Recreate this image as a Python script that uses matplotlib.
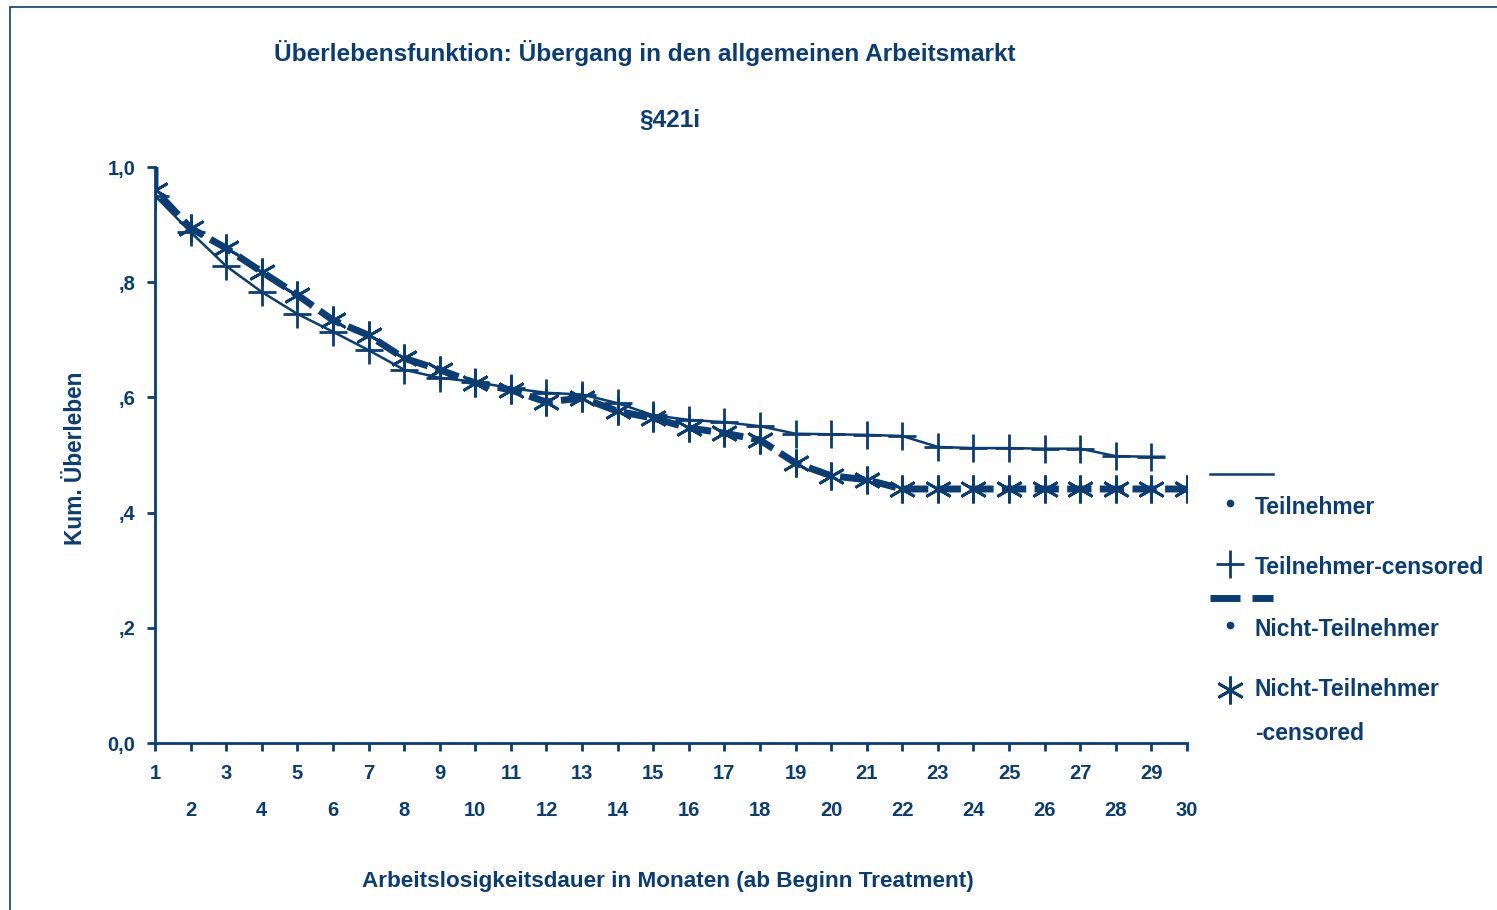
import matplotlib
matplotlib.use("Agg")
import matplotlib.pyplot as plt
from matplotlib.lines import Line2D
from matplotlib.patches import Rectangle

# --- Daten ---
months = list(range(1, 31))

# Teilnehmer: Überlebensfunktion, Monate 1..29
teil_x = [1, 1, 2, 3, 4, 5, 6, 7, 8, 9, 10, 11, 12, 13, 14, 15, 16, 17, 18, 19,
          20, 21, 22, 23, 24, 25, 26, 27, 28, 29, 29.35]
teil_y = [1.0, 0.950, 0.887, 0.828, 0.783, 0.745, 0.714, 0.682, 0.648, 0.634, 0.627,
          0.616, 0.608, 0.605, 0.590, 0.569, 0.561, 0.557, 0.550, 0.537,
          0.536, 0.535, 0.533, 0.514, 0.512, 0.512, 0.511, 0.511, 0.498, 0.497, 0.497]
# zensierte Fälle Teilnehmer
teil_cens_x = list(range(1, 30))
teil_cens_y = teil_y[1:30]

# Nicht-Teilnehmer
nicht_x = [1, 1, 2, 3, 4, 5, 6, 7, 8, 9, 10, 11, 12, 13, 14, 15, 16, 17, 18, 19,
           20, 21, 22, 23, 24, 25, 26, 27, 28, 29, 30]
nicht_y = [1.0, 0.960, 0.894, 0.859, 0.818, 0.778, 0.734, 0.708, 0.668, 0.648, 0.625,
           0.613, 0.592, 0.599, 0.576, 0.564, 0.547, 0.538, 0.526, 0.486,
           0.464, 0.457, 0.441, 0.441, 0.441, 0.441, 0.441, 0.441, 0.441, 0.441, 0.441]
nicht_cens_x = list(range(1, 31))
nicht_cens_y = nicht_y[1:]

y_ticks = [0.0, 0.2, 0.4, 0.6, 0.8, 1.0]
y_labels = ["0,0", ",2", ",4", ",6", ",8", "1,0"]

NAVY = "#0b3d75"
W, H = 1497, 910
plt.rcParams["font.family"] = ["Liberation Sans", "DejaVu Sans"]
plt.rcParams["font.weight"] = "bold"

fig = plt.figure(figsize=(W / 100, H / 100), dpi=100)
ax = fig.add_axes([155 / W, 1 - 743 / H, (1187 - 155) / W, (743 - 167) / H])

# Linien
ax.plot(teil_x, teil_y, color=NAVY, lw=1.8, zorder=3)
ax.plot(nicht_x, nicht_y, color=NAVY, lw=5, dashes=(3.5, 1.2), zorder=3)
# zensierte Marker
ax.plot(teil_cens_x, teil_cens_y, ls="none", marker="+", ms=20, mew=2,
        color=NAVY, zorder=4)
ax.plot(nicht_cens_x, nicht_cens_y, ls="none", marker=(6, 2, 0), ms=20, mew=2,
        color=NAVY, zorder=4)

ax.set_xlim(1, 30)
ax.set_ylim(0, 1.0)
for s in ["top", "right"]:
    ax.spines[s].set_visible(False)
for s in ["left", "bottom"]:
    ax.spines[s].set_color(NAVY)
    ax.spines[s].set_linewidth(2)

ax.set_yticks(y_ticks)
ax.set_yticklabels(y_labels)
ax.set_xticks([m for m in months if m % 2 == 1])
ax.set_xticklabels([str(m) for m in months if m % 2 == 1])
ax.set_xticks([m for m in months if m % 2 == 0], minor=True)
ax.set_xticklabels([str(m) for m in months if m % 2 == 0], minor=True)
ax.tick_params(axis="both", which="both", colors=NAVY, labelcolor=NAVY,
               length=6, width=2, labelsize=14.5)
ax.tick_params(axis="x", which="major", pad=9)
ax.tick_params(axis="x", which="minor", pad=35.5)
ax.tick_params(axis="y", pad=8)

fig.text(75 / W, 1 - 458 / H, "Kum. Überleben", rotation=90, ha="center",
         va="center", color=NAVY, fontsize=16.3)
fig.text(668 / W, 1 - 882 / H,
         "Arbeitslosigkeitsdauer in Monaten (ab Beginn Treatment)",
         ha="center", va="center", color=NAVY, fontsize=16.2)

fig.text(645 / W, 1 - 53 / H,
         "Überlebensfunktion: Übergang in den allgemeinen Arbeitsmarkt",
         ha="center", va="center", color=NAVY, fontsize=17.6)
fig.text(670 / W, 1 - 121 / H, "§421i", ha="center", va="center",
         color=NAVY, fontsize=17.6)

# Legende (SPSS-Stil)
def fx(px):
    return px / W


def fy(py):
    return 1 - py / H


LEG_FS = 16.5
fig.add_artist(Line2D([fx(1210), fx(1273)], [fy(474), fy(474)], color=NAVY, lw=1.8))
fig.add_artist(Line2D([fx(1230)], [fy(503)], marker="o", ms=4.5, color=NAVY, ls="none"))
fig.text(fx(1255), fy(507), "Teilnehmer", va="center", color=NAVY, fontsize=LEG_FS)
fig.add_artist(Line2D([fx(1230)], [fy(564)], marker="+", ms=20, mew=2, color=NAVY, ls="none"))
fig.text(fx(1255), fy(568), "Teilnehmer-censored", va="center", color=NAVY, fontsize=LEG_FS)
fig.add_artist(Line2D([fx(1210), fx(1240)], [fy(598), fy(598)], color=NAVY, lw=5,
                      solid_capstyle="butt"))
fig.add_artist(Line2D([fx(1252), fx(1273)], [fy(598), fy(598)], color=NAVY, lw=5,
                      solid_capstyle="butt"))
fig.add_artist(Line2D([fx(1230)], [fy(625)], marker="o", ms=4.5, color=NAVY, ls="none"))
fig.text(fx(1255), fy(629), "Nicht-Teilnehmer", va="center", color=NAVY, fontsize=LEG_FS)
fig.add_artist(Line2D([fx(1230)], [fy(690)], marker=(6, 2, 0), ms=20, mew=2, color=NAVY, ls="none"))
fig.text(fx(1255), fy(690), "Nicht-Teilnehmer", va="center", color=NAVY, fontsize=LEG_FS)
fig.text(fx(1255), fy(733), "-censored", va="center", color=NAVY, fontsize=LEG_FS)

# Rahmen
fig.add_artist(Rectangle((fx(10), -0.1), 1.2, fy(7) + 0.1, fill=False,
                         edgecolor=NAVY, lw=1.2, transform=fig.transFigure))

fig.savefig("out.png", dpi=100, facecolor="white")
